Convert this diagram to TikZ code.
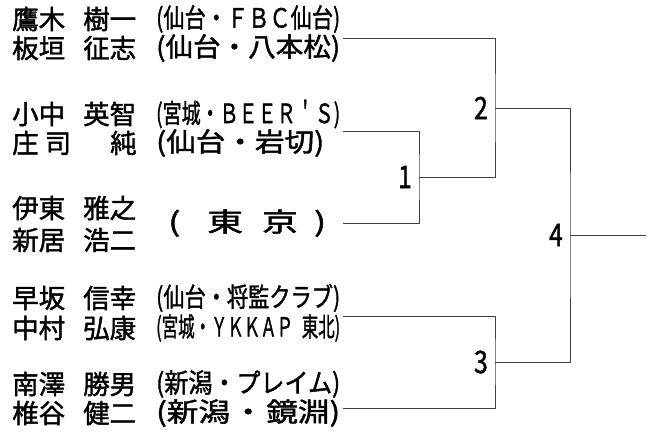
\documentclass[tikz,border=0pt]{standalone}
\usepackage{fontspec}
\newfontfamily\jp[FakeBold=1.5]{Noto Sans CJK JP}

\newcommand{\nm}[2]{\makebox[71pt][l]{#1}#2}
\newcommand{\clubw}[2]{\resizebox{#1}{\height}{#2}}

\tikzset{
  player/.style={anchor=west, inner sep=0pt, font=\jp\fontsize{26.5}{27}\selectfont},
  club/.style={anchor=west, inner sep=0pt, font=\jp\fontsize{26.5}{27}\selectfont},
  seed/.style={anchor=east, inner xsep=7pt, font=\jp\fontsize{31}{31}\selectfont},
  bracket/.style={line width=0.9pt, black!75}
}

\begin{document}
\begin{tikzpicture}[x=1pt, y=-1pt]
  \useasboundingbox (0,0) rectangle (658,443);

% Players
  \node[player] (p1)  at (12,19)  {\nm{鷹木}{樹一}};
  \node[player] (p2)  at (12,48)  {\nm{板垣}{征志}};
  \node[player] (p3)  at (12,114) {\nm{小中}{英智}};
  \node[player] (p4)  at (12,143) {\nm{庄\hspace{6pt}司}{\hspace{27pt}純}};
  \node[player] (p5)  at (12,208) {\nm{伊東}{雅之}};
  \node[player] (p6)  at (12,240) {\nm{新居}{浩二}};
  \node[player] (p7)  at (12,298) {\nm{早坂}{信幸}};
  \node[player] (p8)  at (12,328) {\nm{中村}{弘康}};
  \node[player] (p9)  at (12,384) {\nm{南澤}{勝男}};
  \node[player] (p10) at (12,413) {\nm{椎谷}{健二}};

% Clubs
  \node[club] (c1)  at (156,19)  {\clubw{184pt}{(仙台・ＦＢＣ仙台)}};
  \node[club] (c2)  at (156,48)  {\clubw{184pt}{(仙台・八本松)}};
  \node[club] (c3)  at (156,114) {\clubw{184pt}{(宮城・ＢＥＥＲ＇Ｓ)}};
  \node[club] (c4)  at (156,143) {\clubw{168pt}{(仙台・岩切)}};
  \node[club] (c5)  at (168,223) {\clubw{158pt}{(\hspace{20pt}東\hspace{14pt}京\hspace{12pt})}};
  \node[club] (c7)  at (156,298) {\clubw{184pt}{(仙台・将監クラブ)}};
  \node[club] (c8)  at (156,328) {\clubw{184pt}{(宮城・ＹＫＫＡＰ\hspace{14pt}東北)}};
  \node[club] (c9)  at (156,384) {\clubw{184pt}{(新潟・プレイム)}};
  \node[club] (c10) at (156,413) {\clubw{184pt}{(新潟\hspace{2pt}・\hspace{2pt}鏡淵)}};

% Bracket
  \coordinate (s1) at (343,38);
  \coordinate (s2) at (343,131);
  \coordinate (s3) at (343,223);
  \coordinate (s4) at (343,316);
  \coordinate (s5) at (343,408);
  \coordinate (m1) at (419,177);
  \coordinate (m2) at (495,108);
  \coordinate (m3) at (495,362);
  \coordinate (m4) at (570,235);
  \coordinate (w)  at (646,235);

  \draw[bracket] (s2) -| (m1) |- (s3);
  \draw[bracket] (s1) -| (m2) |- (m1);
  \draw[bracket] (s4) -| (m3) |- (s5);
  \draw[bracket] (m2) -| (m4) |- (m3);
  \draw[bracket] (m4) -- (w);

  \node[seed] (n1) at (m1) {\scalebox{0.8}[1]{1}};
  \node[seed] (n2) at (m2) {\scalebox{0.8}[1]{2}};
  \node[seed] (n3) at (m3) {\scalebox{0.8}[1]{3}};
  \node[seed] (n4) at (m4) {\scalebox{0.8}[1]{4}};

\end{tikzpicture}
\end{document}
